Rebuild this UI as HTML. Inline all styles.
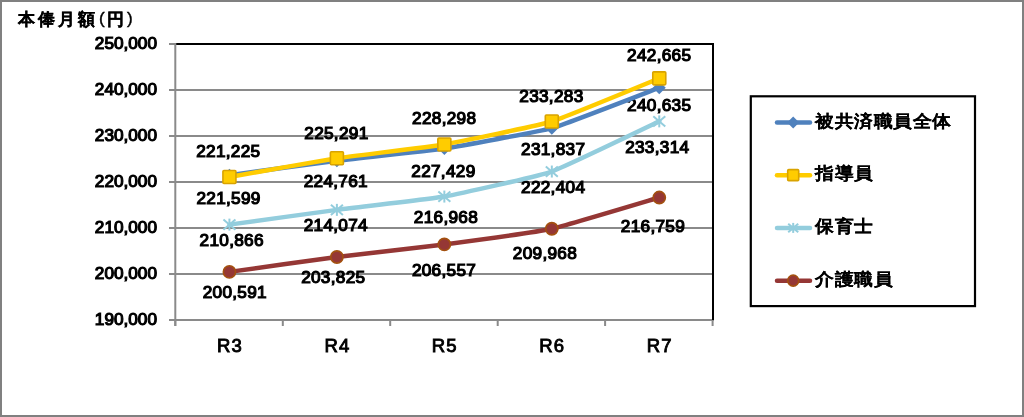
<!DOCTYPE html>
<html><head><meta charset="utf-8"><style>
html,body{margin:0;padding:0;background:#fff;}
body{width:1024px;height:417px;overflow:hidden;position:relative;}
svg{position:absolute;left:0;top:0;}
#w{position:absolute;left:0;top:0;width:1024px;height:417px;will-change:transform;}
text{font-family:"Liberation Sans",sans-serif;fill:#000;}
.n{font-size:17.2px;font-weight:normal;stroke:#000;stroke-width:1.2px;letter-spacing:0.3px;}
.y{font-size:17.2px;font-weight:normal;stroke:#000;stroke-width:1.2px;letter-spacing:0px;}
.r{font-size:18.5px;font-weight:normal;stroke:#000;stroke-width:0.9px;letter-spacing:1px;}
.j{font-size:17px;font-weight:bold;stroke:#000;stroke-width:0.1px;}
.lg{letter-spacing:0.6px;}
.t{stroke-width:0.25px;}
.p{font-size:17px;font-weight:normal;stroke:#000;stroke-width:0.4px;}
</style></head><body><div id="w">
<svg width="1024" height="417" viewBox="0 0 1024 417">
<rect x="0" y="0" width="1024" height="417" fill="#fff"/>
<g>
<rect x="169" y="89.0" width="544" height="2" fill="#8a8a8a"/>
<rect x="169" y="135.0" width="544" height="2" fill="#8a8a8a"/>
<rect x="169" y="181.0" width="544" height="2" fill="#8a8a8a"/>
<rect x="169" y="227.0" width="544" height="2" fill="#8a8a8a"/>
<rect x="169" y="273.0" width="544" height="2" fill="#8a8a8a"/>
<rect x="169" y="43" width="6" height="2" fill="#8a8a8a"/>
<rect x="169" y="319" width="545" height="2" fill="#8a8a8a"/>
<rect x="175" y="43" width="539" height="2" fill="#000"/>
<rect x="712" y="43" width="2" height="277" fill="#000"/>
<rect x="174.3" y="43" width="2" height="283" fill="#8a8a8a"/>
<rect x="174.3" y="320" width="2" height="6" fill="#8a8a8a"/>
<rect x="281.8" y="320" width="2" height="6" fill="#8a8a8a"/>
<rect x="389.2" y="320" width="2" height="6" fill="#8a8a8a"/>
<rect x="496.7" y="320" width="2" height="6" fill="#8a8a8a"/>
<rect x="604.1" y="320" width="2" height="6" fill="#8a8a8a"/>
<rect x="711.6" y="320" width="2" height="6" fill="#8a8a8a"/>
<text class="y" x="157.00" y="49.20" text-anchor="end">250,000</text>
<text class="y" x="157.00" y="95.20" text-anchor="end">240,000</text>
<text class="y" x="157.00" y="141.20" text-anchor="end">230,000</text>
<text class="y" x="157.00" y="187.20" text-anchor="end">220,000</text>
<text class="y" x="157.00" y="233.20" text-anchor="end">210,000</text>
<text class="y" x="157.00" y="279.20" text-anchor="end">200,000</text>
<text class="y" x="157.00" y="325.20" text-anchor="end">190,000</text>
<text class="r" x="229.95" y="351.90" text-anchor="middle">R3</text>
<text class="r" x="337.35" y="351.90" text-anchor="middle">R4</text>
<text class="r" x="444.60" y="351.90" text-anchor="middle">R5</text>
<text class="r" x="552.10" y="351.90" text-anchor="middle">R6</text>
<text class="r" x="659.65" y="351.90" text-anchor="middle">R7</text>
<text class="n" x="228.35" y="157.20" text-anchor="middle">221,225</text>
<text class="n" x="228.60" y="203.85" text-anchor="middle">221,599</text>
<text class="n" x="231.70" y="246.25" text-anchor="middle">210,866</text>
<text class="n" x="234.80" y="297.75" text-anchor="middle">200,591</text>
<text class="n" x="336.40" y="138.55" text-anchor="middle">225,291</text>
<text class="n" x="335.80" y="187.45" text-anchor="middle">224,761</text>
<text class="n" x="335.80" y="231.15" text-anchor="middle">214,074</text>
<text class="n" x="333.25" y="283.35" text-anchor="middle">203,825</text>
<text class="n" x="444.20" y="124.15" text-anchor="middle">228,298</text>
<text class="n" x="443.40" y="177.45" text-anchor="middle">227,429</text>
<text class="n" x="445.95" y="223.45" text-anchor="middle">216,968</text>
<text class="n" x="444.00" y="276.25" text-anchor="middle">206,557</text>
<text class="n" x="551.40" y="101.55" text-anchor="middle">233,283</text>
<text class="n" x="553.15" y="155.45" text-anchor="middle">231,837</text>
<text class="n" x="553.15" y="193.25" text-anchor="middle">222,404</text>
<text class="n" x="544.95" y="258.75" text-anchor="middle">209,968</text>
<text class="n" x="659.20" y="61.35" text-anchor="middle">242,665</text>
<text class="n" x="659.20" y="110.90" text-anchor="middle">240,635</text>
<text class="n" x="657.25" y="152.90" text-anchor="middle">233,314</text>
<text class="n" x="652.95" y="232.15" text-anchor="middle">216,759</text>
<path d="M229.43,271.88 C235.88,270.99 323.99,258.65 336.89,257.00 C349.79,255.36 431.45,246.13 444.35,244.44 C457.25,242.74 538.91,231.56 551.81,228.75 C564.71,225.93 652.82,199.38 659.27,197.51" fill="none" stroke="#953735" stroke-width="4.5" stroke-linejoin="round" stroke-linecap="round"/>
<path d="M229.43,224.62 C235.88,223.73 323.99,211.54 336.89,209.86 C349.79,208.18 431.45,198.85 444.35,196.55 C457.25,194.25 538.91,176.05 551.81,171.54 C564.71,167.03 652.82,124.37 659.27,121.36" fill="none" stroke="#93CDDD" stroke-width="4.5" stroke-linejoin="round" stroke-linecap="round"/>
<path d="M229.43,175.24 C235.88,174.37 323.99,162.31 336.89,160.70 C349.79,159.09 431.45,150.38 444.35,148.43 C457.25,146.47 538.91,131.79 551.81,128.15 C564.71,124.50 652.82,90.11 659.27,87.68" fill="none" stroke="#4F81BD" stroke-width="4.5" stroke-linejoin="round" stroke-linecap="round"/>
<path d="M229.43,176.97 C235.88,175.84 323.99,160.21 336.89,158.26 C349.79,156.31 431.45,146.63 444.35,144.43 C457.25,142.22 538.91,125.46 551.81,121.50 C564.71,117.53 652.82,80.93 659.27,78.34" fill="none" stroke="#FFCC00" stroke-width="4.5" stroke-linejoin="round" stroke-linecap="round"/>
<circle cx="229.43" cy="271.88" r="6.10" fill="#953735" stroke="#A3500F" stroke-width="1.6"/>
<circle cx="336.89" cy="257.00" r="6.10" fill="#953735" stroke="#A3500F" stroke-width="1.6"/>
<circle cx="444.35" cy="244.44" r="6.10" fill="#953735" stroke="#A3500F" stroke-width="1.6"/>
<circle cx="551.81" cy="228.75" r="6.10" fill="#953735" stroke="#A3500F" stroke-width="1.6"/>
<circle cx="659.27" cy="197.51" r="6.10" fill="#953735" stroke="#A3500F" stroke-width="1.6"/>
<g stroke="#93CDDD" stroke-width="2"><line x1="229.43" y1="218.62" x2="229.43" y2="230.62"/><line x1="223.43" y1="219.52" x2="235.43" y2="229.72"/><line x1="223.43" y1="229.72" x2="235.43" y2="219.52"/></g>
<g stroke="#93CDDD" stroke-width="2"><line x1="336.89" y1="203.86" x2="336.89" y2="215.86"/><line x1="330.89" y1="204.76" x2="342.89" y2="214.96"/><line x1="330.89" y1="214.96" x2="342.89" y2="204.76"/></g>
<g stroke="#93CDDD" stroke-width="2"><line x1="444.35" y1="190.55" x2="444.35" y2="202.55"/><line x1="438.35" y1="191.45" x2="450.35" y2="201.65"/><line x1="438.35" y1="201.65" x2="450.35" y2="191.45"/></g>
<g stroke="#93CDDD" stroke-width="2"><line x1="551.81" y1="165.54" x2="551.81" y2="177.54"/><line x1="545.81" y1="166.44" x2="557.81" y2="176.64"/><line x1="545.81" y1="176.64" x2="557.81" y2="166.44"/></g>
<g stroke="#93CDDD" stroke-width="2"><line x1="659.27" y1="115.36" x2="659.27" y2="127.36"/><line x1="653.27" y1="116.26" x2="665.27" y2="126.46"/><line x1="653.27" y1="126.46" x2="665.27" y2="116.26"/></g>
<path d="M229.43,168.74 L235.93,175.24 L229.43,181.74 L222.93,175.24 Z" fill="#4F81BD"/>
<path d="M336.89,154.20 L343.39,160.70 L336.89,167.20 L330.39,160.70 Z" fill="#4F81BD"/>
<path d="M444.35,141.93 L450.85,148.43 L444.35,154.93 L437.85,148.43 Z" fill="#4F81BD"/>
<path d="M551.81,121.65 L558.31,128.15 L551.81,134.65 L545.31,128.15 Z" fill="#4F81BD"/>
<path d="M659.27,81.18 L665.77,87.68 L659.27,94.18 L652.77,87.68 Z" fill="#4F81BD"/>
<rect x="222.93" y="170.47" width="13.00" height="13.00" rx="1" fill="#FFCC00" stroke="#D9A300" stroke-width="1.6"/>
<rect x="330.39" y="151.76" width="13.00" height="13.00" rx="1" fill="#FFCC00" stroke="#D9A300" stroke-width="1.6"/>
<rect x="437.85" y="137.93" width="13.00" height="13.00" rx="1" fill="#FFCC00" stroke="#D9A300" stroke-width="1.6"/>
<rect x="545.31" y="115.00" width="13.00" height="13.00" rx="1" fill="#FFCC00" stroke="#D9A300" stroke-width="1.6"/>
<rect x="652.77" y="71.84" width="13.00" height="13.00" rx="1" fill="#FFCC00" stroke="#D9A300" stroke-width="1.6"/>
<text class="j t" transform="translate(17.50 25.20) scale(1.000 1)" x="0" y="0">本</text>
<text class="j t" transform="translate(37.80 25.20) scale(1.000 1)" x="0" y="0">俸</text>
<text class="j t" transform="translate(58.20 25.20) scale(1.000 1)" x="0" y="0">月</text>
<text class="j t" transform="translate(78.20 25.20) scale(1.000 1)" x="0" y="0">額</text>
<text class="j t" transform="translate(107.10 25.20) scale(1.000 1)" x="0" y="0">円</text>
<text class="p" x="98.95" y="23.5">(</text>
<text class="p" x="127" y="23.5">)</text>
<rect x="750.8" y="96.3" width="224.2" height="209.8" fill="none" stroke="#000" stroke-width="2.2"/>
<line x1="777" y1="122.40" x2="810" y2="122.40" stroke="#4F81BD" stroke-width="4.5" stroke-linecap="round"/>
<path d="M793.20,116.40 L799.20,122.40 L793.20,128.40 L787.20,122.40 Z" fill="#4F81BD"/>
<text class="j lg" transform="translate(815.37 126.70) scale(1.100 1)" x="0" y="0">被共済職員全体</text>
<line x1="777" y1="175.15" x2="810" y2="175.15" stroke="#FFCC00" stroke-width="4.5" stroke-linecap="round"/>
<rect x="787.70" y="169.65" width="11.00" height="11.00" rx="1" fill="#FFCC00" stroke="#D9A300" stroke-width="1.6"/>
<text class="j lg" transform="translate(815.37 179.45) scale(1.100 1)" x="0" y="0">指導員</text>
<line x1="777" y1="227.90" x2="810" y2="227.90" stroke="#93CDDD" stroke-width="4.5" stroke-linecap="round"/>
<g stroke="#93CDDD" stroke-width="2"><line x1="793.20" y1="222.90" x2="793.20" y2="232.90"/><line x1="788.20" y1="223.65" x2="798.20" y2="232.15"/><line x1="788.20" y1="232.15" x2="798.20" y2="223.65"/></g>
<text class="j lg" transform="translate(815.37 232.20) scale(1.100 1)" x="0" y="0">保育士</text>
<line x1="777" y1="280.65" x2="810" y2="280.65" stroke="#953735" stroke-width="4.5" stroke-linecap="round"/>
<circle cx="793.20" cy="280.65" r="5.50" fill="#953735" stroke="#A3500F" stroke-width="1.6"/>
<text class="j lg" transform="translate(815.37 284.95) scale(1.100 1)" x="0" y="0">介護職員</text>
<rect x="1" y="1" width="1022" height="415" fill="none" stroke="#808080" stroke-width="2"/>
</g>
</svg></div>
</body></html>
